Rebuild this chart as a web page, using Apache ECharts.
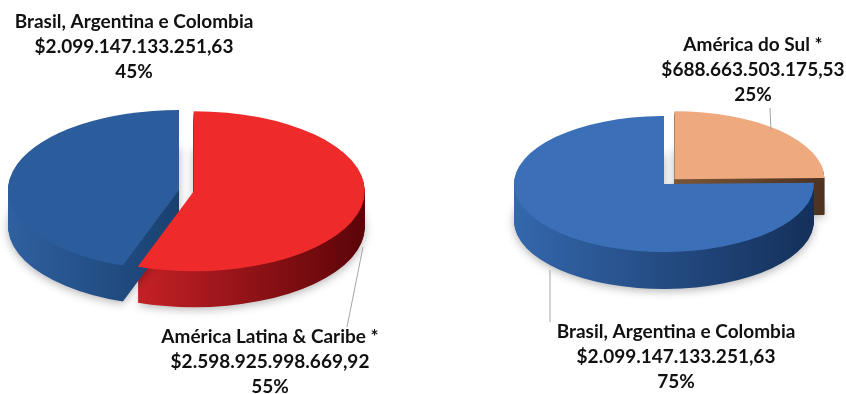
<!DOCTYPE html>
<html>
<head>
<meta charset="utf-8">
<script src="https://cdn.jsdelivr.net/npm/echarts@6/dist/echarts.min.js"></script>
<style>
  html, body { margin: 0; padding: 0; background: #fff; }
  #chart { width: 846px; height: 394px; }
</style>
</head>
<body>
<div id="chart"></div>
<script>
// fatias em sentido horário a partir das 12 horas
const leftNames = ['América Latina & Caribe *', 'Brasil, Argentina e Colombia'];
const leftValues = [2598925998669.92, 2099147133251.63];
const rightNames = ['América do Sul *', 'Brasil, Argentina e Colombia'];
const rightValues = [688663503175.53, 2099147133251.63];

const pies = [
  {
    names: leftNames, values: leftValues,
    cx: 179, cy: 190, rx: 171, ry: 80, depth: 36,
    explode: [15, 0],
    top: ['#EE2A2A', '#2B5C9B'],
    side: [['#C42126', '#5C0408'], ['#2F60A0', '#19406F']],
    labels: [[270, 324], [134, 9]],
    leaders: [[[363, 247], [347, 327]], null]
  },
  {
    names: rightNames, values: rightValues,
    cx: 664, cy: 184, rx: 150, ry: 68, depth: 37,
    explode: [15, 0],
    top: ['#EFA97E', '#3B70B9'],
    side: [['#7A5638', '#4C3220'], ['#3467AC', '#14305A']],
    labels: [[753, 32], [676, 319]],
    leaders: [[[770, 108], [771, 130]], [[550, 270], [550, 322]]]
  }
];

function formatMoney(v) {
  const parts = v.toFixed(2).split('.');
  const int = parts[0].replace(/\B(?=(\d{3})+(?!\d))/g, '.');
  return '$' + int + ',' + parts[1];
}

// ângulos e deslocamento de cada fatia
function slices(pie) {
  const total = pie.values.reduce((a, b) => a + b, 0);
  let acc = -Math.PI / 2;
  return pie.values.map(function (v, i) {
    const span = v / total * Math.PI * 2;
    const start = acc;
    const end = acc + span;
    acc = end;
    const mid = (start + end) / 2;
    const d = pie.explode[i];
    return {
      start: start, end: end,
      dx: d * Math.cos(mid),
      dy: d * Math.sin(mid) * pie.ry / pie.rx,
      pct: Math.round(v / total * 100) + '%'
    };
  });
}

function sideItem(pie) {
  const sl = slices(pie);
  return function (params) {
    const i = params.dataIndex;
    const s = sl[i];
    const children = [];
    for (let k = pie.depth; k >= 1; k--) {
      const style = {
        fill: {
          type: 'linear', x: 0, y: 0, x2: 1, y2: 0,
          colorStops: [
            { offset: 0, color: pie.side[i][0] },
            { offset: 1, color: pie.side[i][1] }
          ]
        }
      };
      if (k === pie.depth) {
        style.shadowBlur = 10;
        style.shadowColor = 'rgba(0,0,0,0.3)';
        style.shadowOffsetY = 2;
      }
      children.push({
        type: 'sector',
        x: pie.cx + s.dx,
        y: pie.cy + s.dy + k,
        scaleY: pie.ry / pie.rx,
        shape: { cx: 0, cy: 0, r0: 0, r: pie.rx, startAngle: s.start, endAngle: s.end, clockwise: true },
        style: style
      });
    }
    return { type: 'group', children: children };
  };
}

function topItem(pie) {
  const sl = slices(pie);
  return function (params) {
    const i = params.dataIndex;
    const s = sl[i];
    const children = [{
      type: 'sector',
      x: pie.cx + s.dx,
      y: pie.cy + s.dy,
      scaleY: pie.ry / pie.rx,
      shape: { cx: 0, cy: 0, r0: 0, r: pie.rx, startAngle: s.start, endAngle: s.end, clockwise: true },
      style: { fill: pie.top[i] }
    }];
    if (pie.leaders[i]) {
      children.push({
        type: 'polyline',
        shape: { points: pie.leaders[i] },
        style: { stroke: '#A6A6A6', lineWidth: 1, fill: null }
      });
    }
    children.push({
      type: 'text',
      x: pie.labels[i][0],
      y: pie.labels[i][1],
      style: {
        text: pie.names[i] + '\n' + formatMoney(pie.values[i]) + '\n' + s.pct,
        fontFamily: 'Lato',
        fontWeight: 'bold',
        fontSize: 19,
        lineHeight: 25,
        align: 'center',
        verticalAlign: 'top',
        fill: '#111111'
      }
    });
    return { type: 'group', children: children };
  };
}

const chart = echarts.init(document.getElementById('chart'));
const series = [];
pies.forEach(function (pie) {
  const data = pie.values.map(function (v, i) { return { name: pie.names[i], value: v }; });
  series.push({ type: 'custom', coordinateSystem: 'none', renderItem: sideItem(pie), data: data, silent: true });
  series.push({ type: 'custom', coordinateSystem: 'none', renderItem: topItem(pie), data: data, silent: true });
});

chart.setOption({
  backgroundColor: '#ffffff',
  animation: false,
  series: series
});
</script>
</body>
</html>
